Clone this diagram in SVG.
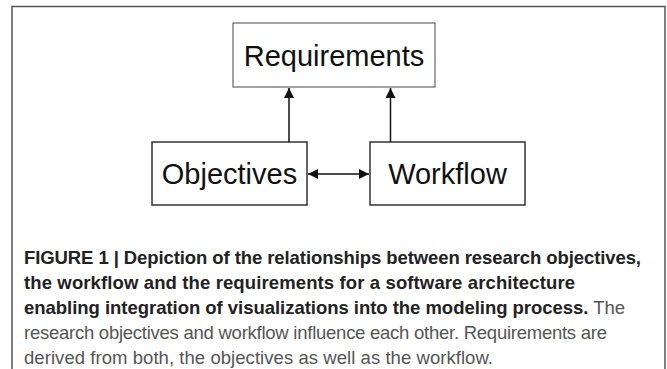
<svg xmlns="http://www.w3.org/2000/svg" width="667" height="369" viewBox="0 0 667 369">
<style>
.box{fill:#fff;stroke:#333;stroke-width:1.5}
.lbl{font-family:"Liberation Sans",Arial,sans-serif;font-size:29px;fill:#111;text-anchor:middle}
.edge{stroke:#111;stroke-width:1.5;fill:none}
.cap{font-family:"Liberation Sans",Arial,sans-serif;font-size:18.5px}
.b{font-weight:bold;fill:#222}
.r{fill:#555}
</style>
<defs>
<marker id="ah" viewBox="0 0 10 10" refX="10" refY="5" markerWidth="10" markerHeight="10" markerUnits="userSpaceOnUse" orient="auto-start-reverse">
<path d="M0,0 L10,5 L0,10 z" fill="#111"/>
</marker>
</defs>
<rect width="667" height="369" fill="#fff"/>
<path d="M12,369 V6.5 H665 V369" fill="none" stroke="#555" stroke-width="1.5"/>
<g id="requirements">
<rect class="box" x="233" y="23" width="202" height="64" style="stroke:#666;stroke-width:1.2"/>
<text class="lbl" x="334" y="65.5">Requirements</text>
</g>
<g id="objectives">
<rect class="box" x="152" y="142" width="155" height="63"/>
<text class="lbl" x="229.5" y="183.5">Objectives</text>
</g>
<g id="workflow">
<rect class="box" x="370" y="142" width="155" height="63"/>
<text class="lbl" x="447.5" y="183.5">Workflow</text>
</g>
<g id="connectors">
<line class="edge" x1="289" y1="142" x2="289" y2="88" marker-end="url(#ah)"/>
<line class="edge" x1="390.5" y1="142" x2="390.5" y2="88" marker-end="url(#ah)"/>
<line class="edge" x1="308" y1="174" x2="369" y2="174" marker-start="url(#ah)" marker-end="url(#ah)"/>
</g>
<g id="caption" class="cap">
<text x="24" y="264" class="b" textLength="617" lengthAdjust="spacing">FIGURE 1 | Depiction of the relationships between research objectives,</text>
<text x="24" y="289" class="b" textLength="551" lengthAdjust="spacing">the workflow and the requirements for a software architecture</text>
<text x="24" y="314" textLength="601" lengthAdjust="spacing"><tspan class="b">enabling integration of visualizations into the modeling process.</tspan><tspan class="r"> The</tspan></text>
<text x="24" y="339" class="r" textLength="583" lengthAdjust="spacing">research objectives and workflow influence each other. Requirements are</text>
<text x="24" y="364" class="r" textLength="469" lengthAdjust="spacing">derived from both, the objectives as well as the workflow.</text>
</g>
</svg>
